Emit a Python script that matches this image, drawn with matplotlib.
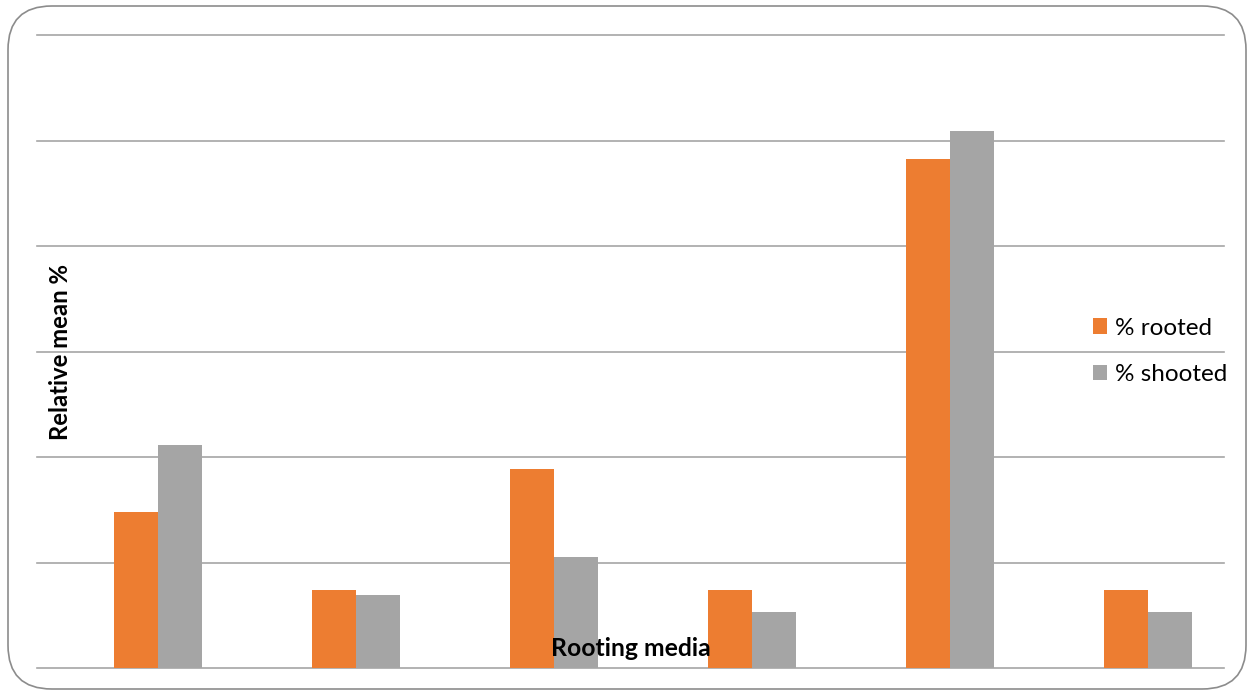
import matplotlib
matplotlib.use("Agg")
import matplotlib.pyplot as plt
from matplotlib.patches import FancyBboxPatch
import numpy as np

plt.rcParams['font.family'] = ['Lato', 'DejaVu Sans']

categories = ["1", "2", "3", "4", "5", "6"]
rooted = [14.8, 7.4, 18.9, 7.4, 48.2, 7.4]
shooted = [21.1, 6.9, 10.5, 5.3, 50.9, 5.3]
series_names = ["% rooted", "% shooted"]
colors = ["#ED7D31", "#A5A5A5"]

fig = plt.figure(figsize=(12.5, 6.95), dpi=100)
border = FancyBboxPatch((8/1250, 6/695), (1246-8)/1250, (689-6)/695,
                        boxstyle="round,pad=0,rounding_size=0.035",
                        transform=fig.transFigure, facecolor="none",
                        edgecolor="#8c8c8c", linewidth=1.2, mutation_aspect=1250/695,
                        zorder=10)
fig.patches.append(border)

ax = fig.add_axes([37/1250, 1-668/695, (1224-37)/1250, (668-35)/695])
ax.set_facecolor("none")
x = np.arange(len(categories))
w = 0.222
ax.bar(x - w/2, rooted, w, color=colors[0], label=series_names[0], zorder=3)
ax.bar(x + w/2, shooted, w, color=colors[1], label=series_names[1], zorder=3)
ax.set_xlim(-0.611, 5.384)
ax.set_ylim(0, 60)
ax.set_yticks(np.arange(0, 61, 10))
ax.set_yticklabels([])
ax.set_xticks([])
ax.tick_params(length=0)
ax.grid(axis='y', color="#a6a6a6", linewidth=1.2, zorder=0)
for gl in ax.get_ygridlines():
    gl.set_clip_on(False)
for s in ax.spines.values():
    s.set_visible(False)

ax.text((60-37)/1187, (668-352)/633, "Relative mean %", rotation=90,
        ha='center', va='center', fontsize=17.2, fontweight='bold',
        transform=ax.transAxes, zorder=5)
ax.text(0.5, (668-649)/633, "Rooting media", ha='center', va='center',
        fontsize=17.8, fontweight='bold', transform=ax.transAxes, zorder=5)

leg = ax.legend(loc='center left', bbox_to_anchor=(1034/1187, 0.5), frameon=False,
                fontsize=17.5, handlelength=0.6, handleheight=0.6, handletextpad=0.3,
                labelspacing=1.05)

fig.savefig("out.png", dpi=100)
